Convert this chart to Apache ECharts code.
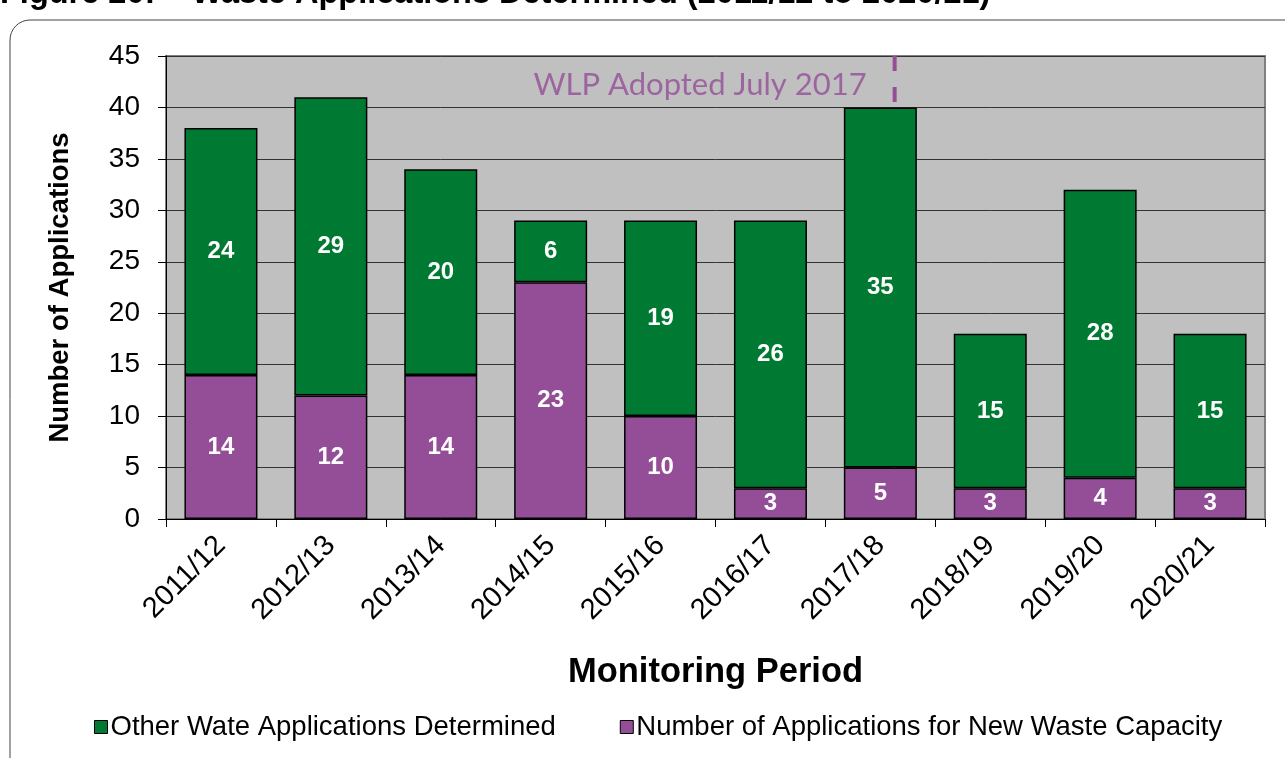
<!DOCTYPE html>
<html>
<head>
<meta charset="utf-8">
<script src="https://cdn.jsdelivr.net/npm/echarts@6/dist/echarts.min.js"></script>
<style>
  html, body { margin: 0; padding: 0; background: #fff; }
  #chart { width: 1285px; height: 758px; }
</style>
</head>
<body>
<div id="chart"></div>
<script>
// Monitoring periods and application counts
const periods = ['2011/12', '2012/13', '2013/14', '2014/15', '2015/16',
                 '2016/17', '2017/18', '2018/19', '2019/20', '2020/21'];
const newCapacity = [14, 12, 14, 23, 10, 3, 5, 3, 4, 3];
const otherDetermined = [24, 29, 20, 6, 19, 26, 35, 15, 28, 15];
const yTicks = [0, 45, 5];           // min, max, interval
const wlpAdoption = 6.63;            // position on the period scale (July 2017)
const wlpLabelLevel = 42.2;          // height of the adoption note
const wlpText = 'WLP Adopted July 2017';

const GREEN = '#007a33';
const PURPLE = '#934e97';
const FONT = '"Liberation Sans", Arial';

const chart = echarts.init(document.getElementById('chart'));

const segLabel = {
  show: true,
  position: 'inside',
  color: '#fff',
  fontFamily: FONT,
  fontWeight: 'bold',
  fontSize: 24
};

chart.setOption({
  animation: false,
  backgroundColor: '#fff',
  graphic: [
    {
      type: 'rect', z: -10,
      shape: { x: 10, y: 20, width: 1310, height: 780, r: 20 },
      style: { fill: '#fff', stroke: '#444', lineWidth: 1 }
    },
    {
      type: 'text', left: 0, top: -22,
      style: {
        text: 'Figure 20: \u2013 Waste Applications Determined (2011/12 to 2020/21)',
        fill: '#000', font: 'bold 32.5px "Liberation Sans", Arial'
      }
    }
  ],
  grid: { left: 166, right: 20, top: 56, bottom: 239, containLabel: false,
          show: true, backgroundColor: '#c0c0c0', borderColor: '#808080', borderWidth: 2 },
  legend: {
    left: 89, top: 708,
    itemWidth: 13, itemHeight: 13, itemGap: 64,
    icon: 'rect',
    data: ['Other Wate Applications Determined', 'Number of Applications for New Waste Capacity'],
    itemStyle: { borderColor: '#000', borderWidth: 1 },
    textStyle: { fontFamily: FONT, fontSize: 27.5, color: '#000', padding: [0, 0, 0, -2] }
  },
  xAxis: [
    {
      type: 'category',
      data: periods,
      name: 'Monitoring Period',
      nameLocation: 'middle',
      nameGap: 136,
      nameTextStyle: { fontFamily: FONT, fontWeight: 'bold', fontSize: 34.5, color: '#000' },
      axisLine: { lineStyle: { color: '#000', width: 1 } },
      axisTick: { show: true, alignWithLabel: false, length: 8, lineStyle: { color: '#000' } },
      axisLabel: { rotate: 45, margin: 22, fontFamily: FONT, fontSize: 29, color: '#000' }
    },
    {
      type: 'value', min: 0, max: periods.length, show: false
    }
  ],
  yAxis: {
    type: 'value',
    min: yTicks[0], max: yTicks[1], interval: yTicks[2],
    name: 'Number of Applications',
    nameLocation: 'middle',
    nameGap: 92,
    nameTextStyle: { fontFamily: FONT, fontWeight: 'bold', fontSize: 27.5, color: '#000' },
    axisLine: { show: true, lineStyle: { color: '#000', width: 1 } },
    axisTick: { show: true, length: 8, lineStyle: { color: '#000' } },
    axisLabel: { margin: 26, fontFamily: FONT, fontSize: 28, color: '#000' },
    splitLine: { show: true, lineStyle: { color: '#333', width: 1 } }
  },
  series: [
    {
      name: 'WLP adoption',
      type: 'line',
      xAxisIndex: 1,
      z: 1,
      symbol: 'none',
      silent: true,
      lineStyle: { color: PURPLE, width: 4, type: [15, 16] },
      data: [[wlpAdoption, yTicks[1]], [wlpAdoption, 0]]
    },
    {
      name: 'WLP note',
      type: 'scatter',
      xAxisIndex: 1,
      z: 2,
      symbolSize: 0,
      silent: true,
      label: { show: true, position: 'left', distance: 28, formatter: wlpText,
               color: PURPLE, fontFamily: 'Lato', fontSize: 31 },
      data: [[wlpAdoption, wlpLabelLevel]]
    },
    {
      name: 'Number of Applications for New Waste Capacity',
      type: 'bar',
      stack: 'apps',
      barWidth: 73,
      z: 3,
      itemStyle: { color: PURPLE, borderColor: '#000', borderWidth: 1.5 },
      label: segLabel,
      data: newCapacity
    },
    {
      name: 'Other Wate Applications Determined',
      type: 'bar',
      stack: 'apps',
      barWidth: 73,
      z: 3,
      itemStyle: { color: GREEN, borderColor: '#000', borderWidth: 1.5 },
      label: segLabel,
      data: otherDetermined
    }
  ]
});
</script>
</body>
</html>
